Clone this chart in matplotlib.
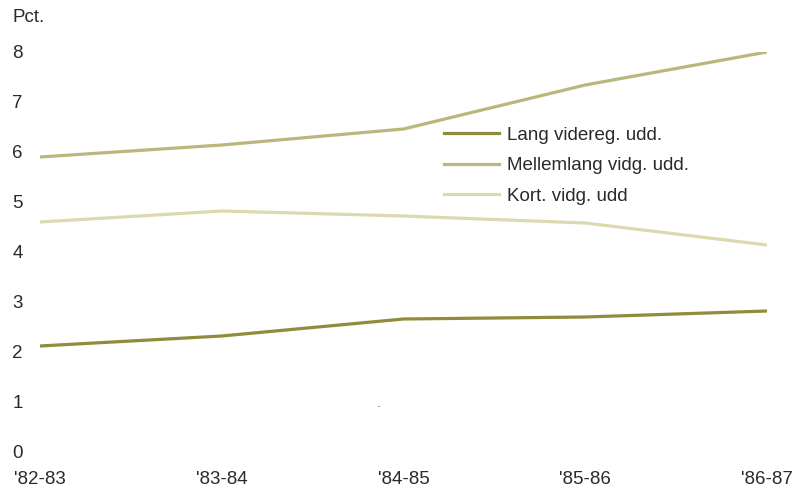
import matplotlib
matplotlib.use("Agg")
import matplotlib.pyplot as plt

plt.rcParams['font.family'] = ['Liberation Sans Narrow', 'Liberation Sans', 'DejaVu Sans']

years = ["'82-83", "'83-84", "'84-85", "'85-86", "'86-87"]
lang = [2.12, 2.32, 2.66, 2.70, 2.82]
mellemlang = [5.90, 6.14, 6.46, 7.34, 8.00]
kort = [4.60, 4.82, 4.72, 4.58, 4.14]

LANG_COLOR = "#8f8c3c"
MELLEM_COLOR = "#bab67c"
KORT_COLOR = "#dcd9b0"
TEXT_COLOR = "#2a2a2a"
FS = 13.5

fig = plt.figure(figsize=(7.96, 4.93), dpi=100)
ax = fig.add_axes([40 / 796, 1 - 452 / 493, (767 - 40) / 796, (452 - 52) / 493])

x = range(len(years))
ax.plot(x, lang, color=LANG_COLOR, lw=2.3, label="Lang videreg. udd.")
ax.plot(x, mellemlang, color=MELLEM_COLOR, lw=2.3, label="Mellemlang vidg. udd.")
ax.plot(x, kort, color=KORT_COLOR, lw=2.3, label="Kort. vidg. udd")

ax.set_xlim(0, 4)
ax.set_ylim(0, 8)
ax.set_yticks(range(0, 9))
ax.set_xticks(list(x))
ax.set_xticklabels(years)
for s in ax.spines.values():
    s.set_visible(False)
ax.tick_params(axis='both', length=0, labelsize=FS, colors=TEXT_COLOR)
ax.tick_params(axis='y', pad=20)
ax.tick_params(axis='x', pad=14)
for lbl in ax.get_yticklabels():
    lbl.set_horizontalalignment('left')

fig.text(12 / 796, 1 - 18 / 493, "Pct.", fontsize=FS, color=TEXT_COLOR, va='center', ha='left')
fig.text(378 / 796, 1 - 406 / 493, "-", fontsize=8, color="#999999", va='center', ha='center')

ax.legend(loc='upper left', bbox_to_anchor=(435 / 796, 1 - 117 / 493),
          bbox_transform=fig.transFigure, frameon=False, fontsize=FS,
          handlelength=2.9, handletextpad=0.45, labelspacing=0.72, borderpad=0,
          labelcolor=TEXT_COLOR)

fig.savefig("out.png", dpi=100)
